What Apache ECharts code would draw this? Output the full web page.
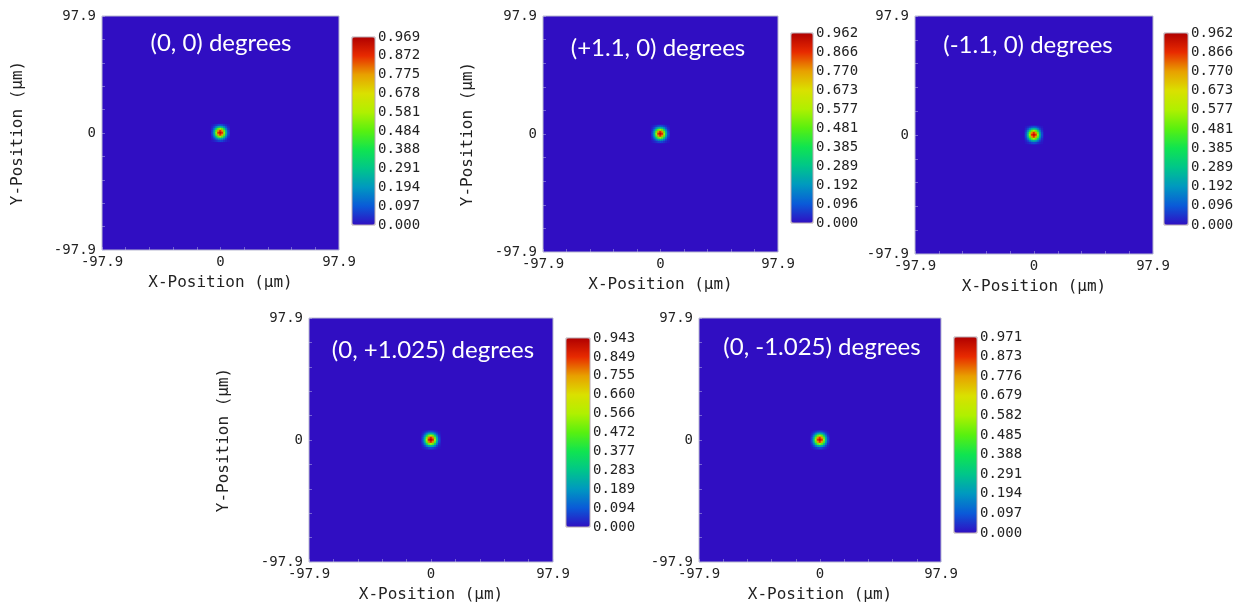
<!DOCTYPE html>
<html>
<head>
<meta charset="utf-8">
<title>Focal spot intensity</title>
<script src="https://cdn.jsdelivr.net/npm/echarts/dist/echarts.min.js"></script>
<style>
  html, body { margin: 0; padding: 0; background: #fff; }
  #chart { width: 1241px; height: 610px; }
</style>
</head>
<body>
<div id="chart"></div>
<script>
// panel titles (incidence angles)
const panelTitles = ['(0, 0) degrees', '(+1.1, 0) degrees', '(-1.1, 0) degrees', '(0, +1.025) degrees', '(0, -1.025) degrees']
// colour bar maximum of every panel
const peakValues = [0.969, 0.962, 0.962, 0.943, 0.971]
// colour bar tick labels, top to bottom
const barLabels1 = ['0.969', '0.872', '0.775', '0.678', '0.581', '0.484', '0.388', '0.291', '0.194', '0.097', '0.000']
const barLabels2 = ['0.962', '0.866', '0.770', '0.673', '0.577', '0.481', '0.385', '0.289', '0.192', '0.096', '0.000']
const barLabels3 = ['0.962', '0.866', '0.770', '0.673', '0.577', '0.481', '0.385', '0.289', '0.192', '0.096', '0.000']
const barLabels4 = ['0.943', '0.849', '0.755', '0.660', '0.566', '0.472', '0.377', '0.283', '0.189', '0.094', '0.000']
const barLabels5 = ['0.971', '0.873', '0.776', '0.679', '0.582', '0.485', '0.388', '0.291', '0.194', '0.097', '0.000']
const barLabels = [barLabels1, barLabels2, barLabels3, barLabels4, barLabels5]
// position range (µm)
const posMin = -97.9
const posMax = 97.9
// heatmap cells across the field (odd so that the middle one sits on 0)
const cellCount = 119
const cellIds = Array.from({ length: cellCount }, (_, i) => i)
// intensity around the focal spot, rows top to bottom, one cell ~1.65 µm
const spot = [
  [0.012, 0.025, 0.045, 0.07, 0.08, 0.07, 0.045, 0.025, 0.012],
  [0.025, 0.07, 0.15, 0.23, 0.27, 0.23, 0.15, 0.07, 0.025],
  [0.045, 0.15, 0.34, 0.50, 0.56, 0.50, 0.34, 0.15, 0.045],
  [0.07, 0.23, 0.50, 0.78, 0.87, 0.78, 0.50, 0.23, 0.07],
  [0.08, 0.27, 0.56, 0.87, 0.94, 0.87, 0.56, 0.27, 0.08],
  [0.07, 0.23, 0.50, 0.78, 0.87, 0.78, 0.50, 0.23, 0.07],
  [0.045, 0.15, 0.34, 0.50, 0.56, 0.50, 0.34, 0.15, 0.045],
  [0.025, 0.07, 0.15, 0.23, 0.27, 0.23, 0.15, 0.07, 0.025],
  [0.012, 0.025, 0.045, 0.07, 0.08, 0.07, 0.045, 0.025, 0.012]
]

// colour map, low to high
const zeroColor = '#300ec2'
const colorMap = [zeroColor, '#0a5ad8', '#0098c0', '#00c68a', '#10e450', '#58f010', '#b0f000', '#dae000', '#e8a000', '#e82a00', '#b00000']

// layout of the five panels (px)
const plots = [
  { left: 102, top: 16, width: 237, height: 234, yNameGap: 76 },
  { left: 543, top: 16, width: 235, height: 236, yNameGap: 67 },
  { left: 915, top: 16, width: 238, height: 238, yNameGap: null },
  { left: 309, top: 318, width: 244, height: 244, yNameGap: 77 },
  { left: 699, top: 318, width: 242, height: 244, yNameGap: null }
]
const bars = [
  { left: 352, top: 37, width: 23, height: 188 },
  { left: 791, top: 33, width: 22, height: 190 },
  { left: 1164, top: 33, width: 24, height: 192 },
  { left: 566, top: 338, width: 24, height: 189 },
  { left: 954, top: 337, width: 23, height: 196 }
]
const titlePos = [[221, 43], [658, 48], [1028, 45], [433, 350], [822, 347]]

const mono = 'DejaVu Sans Mono'
const half = (spot.length - 1) / 2
const mid = (cellCount - 1) / 2
const spotData = []
spot.forEach((row, r) => {
  row.forEach((v, c) => {
    spotData.push([mid - half + c, mid + half - r, v])
  })
})

const grids = []
const xAxes = []
const yAxes = []
const series = []
const visualMaps = []
const texts = []

plots.forEach((p, i) => {
  grids.push({
    left: p.left, top: p.top, width: p.width, height: p.height,
    show: true, backgroundColor: zeroColor, borderColor: '#b8b8d0', borderWidth: 1
  })
  const tickLine = { lineStyle: { color: 'rgba(200,200,235,0.45)' } }
  // visible position axes
  xAxes.push({
    gridIndex: i, type: 'value', min: posMin, max: posMax, interval: posMax, position: 'bottom',
    name: 'X-Position (µm)', nameLocation: 'middle', nameGap: 25,
    nameTextStyle: { fontFamily: mono, fontSize: 16, color: '#222' },
    axisLine: { show: false, onZero: false },
    axisTick: { show: true, inside: true, length: 3, ...tickLine },
    minorTick: { show: true, splitNumber: 5, length: 3, ...tickLine },
    splitLine: { show: false },
    axisLabel: { margin: 5, fontFamily: mono, fontSize: 14, color: '#222' }
  })
  yAxes.push({
    gridIndex: i, type: 'value', min: posMin, max: posMax, interval: posMax, position: 'left',
    name: p.yNameGap ? 'Y-Position (µm)' : '', nameLocation: 'middle', nameGap: p.yNameGap || 0,
    nameTextStyle: { fontFamily: mono, fontSize: 16, color: '#222' },
    axisLine: { show: false, onZero: false },
    axisTick: { show: true, inside: true, length: 3, ...tickLine },
    minorTick: { show: true, splitNumber: 5, length: 3, ...tickLine },
    splitLine: { show: false },
    axisLabel: { margin: 6, fontFamily: mono, fontSize: 14, color: '#222' }
  })
  // hidden cell axes for the heatmap
  xAxes.push({ gridIndex: i, type: 'category', data: cellIds, show: false, position: 'top' })
  yAxes.push({ gridIndex: i, type: 'category', data: cellIds, show: false, position: 'right' })

  series.push({
    type: 'heatmap',
    xAxisIndex: 2 * i + 1,
    yAxisIndex: 2 * i + 1,
    data: spotData,
    itemStyle: { borderWidth: 0 },
    emphasis: { disabled: true }
  })

  const b = bars[i]
  visualMaps.push({
    type: 'continuous', seriesIndex: i, min: 0, max: peakValues[i],
    orient: 'vertical', left: b.left, top: b.top, itemWidth: b.width, itemHeight: b.height,
    calculable: false, hoverLink: false, padding: 0, text: null,
    inRange: { color: colorMap }
  })

  texts.push({
    type: 'text', x: titlePos[i][0], y: titlePos[i][1], z: 100,
    style: {
      text: panelTitles[i], fill: '#fff', fontFamily: 'Lato', fontSize: 24,
      align: 'center', verticalAlign: 'middle'
    }
  })
})

// colour bar frames and their tick labels
bars.forEach((b, i) => {
  const labels = barLabels[i]
  grids.push({
    left: b.left, top: b.top, width: b.width, height: b.height, z: 10,
    show: true, backgroundColor: 'transparent', borderColor: '#b8a8b0', borderWidth: 1
  })
  xAxes.push({ gridIndex: 5 + i, type: 'value', show: false, min: 0, max: 1 })
  yAxes.push({
    gridIndex: 5 + i, type: 'value', min: 0, max: 10, interval: 1, position: 'right',
    axisLine: { show: false }, axisTick: { show: false }, splitLine: { show: false },
    axisLabel: {
      margin: 3, fontFamily: mono, fontSize: 14, color: '#222',
      formatter: v => labels[10 - Math.round(v)]
    }
  })
})

const chart = echarts.init(document.getElementById('chart'))
chart.setOption({
  animation: false,
  backgroundColor: '#fff',
  grid: grids,
  xAxis: xAxes,
  yAxis: yAxes,
  visualMap: visualMaps,
  series: series,
  graphic: texts
})
</script>
</body>
</html>
